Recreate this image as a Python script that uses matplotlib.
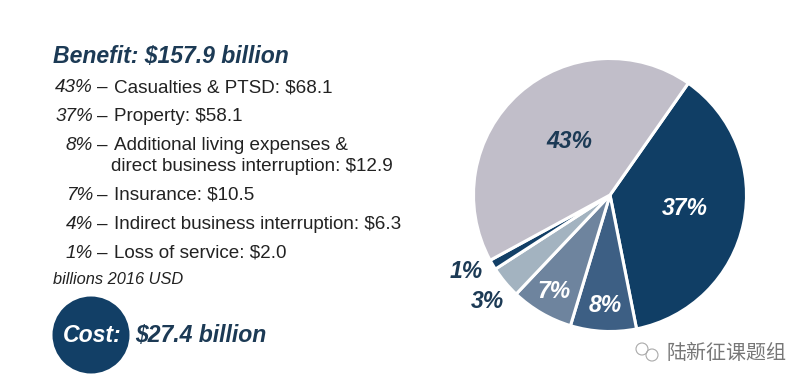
"""Benefit vs cost of the programme: text list on the left, pie on the right."""
import matplotlib
matplotlib.use("Agg")
import matplotlib.pyplot as plt
from matplotlib.patches import Circle

plt.rcParams['font.family'] = ['Liberation Sans', 'Noto Sans CJK SC', 'DejaVu Sans']

W, H = 811, 389
NAVY = "#123f66"
DARK = "#1c3a55"
INK = "#222222"

# slice sizes, clockwise from the top right edge of the grey slice
pie_values = [37.2, 7.8, 7.4, 3.8, 1.2, 42.7]
pie_colors = ["#103e65", "#3d5f84", "#6e849e", "#a3b3c0", "#123f66", "#c1bec9"]
pie_labels = ["37%", "8%", "7%", "3%", "1%", "43%"]
label_xy = [(685, 208), (605, 306), (554, 292), (487, 302), (466, 271), (569, 141)]
label_colors = ["white", "white", "white", DARK, DARK, DARK]

shares = ["43%", "37%", "8%", "7%", "4%", "1%"]
items = ["Casualties & PTSD: $68.1", "Property: $58.1",
         "Additional living expenses &", "Insurance: $10.5",
         "Indirect business interruption: $6.3", "Loss of service: $2.0"]
item_y = [87.5, 116, 145, 195, 224.5, 253]

fig = plt.figure(figsize=(W / 100, H / 100), dpi=100, facecolor='white')
ax = fig.add_axes([0, 0, 1, 1])


def put(x, y, s, **kw):
    # y is measured from the top of the picture
    ax.text(x, H - y, s, va='center', **kw)


ax.pie(pie_values, colors=pie_colors, startangle=55, counterclock=False,
       center=(610, H - 195), radius=136.5, frame=True,
       wedgeprops=dict(edgecolor='white', linewidth=2.2))
ax.set_xlim(0, W)
ax.set_ylim(0, H)
ax.set_aspect('equal')
ax.axis('off')

for lab, (x, y), c in zip(pie_labels, label_xy, label_colors):
    put(x, y, lab, ha='center', fontsize=16.6, fontweight='bold',
        fontstyle='italic', color=c)

put(53, 56, "Benefit: $157.9 billion", fontsize=16.6, fontweight='bold',
    fontstyle='italic', color=DARK)

for share, item, y in zip(shares, items, item_y):
    put(93, y, share, ha='right', fontsize=13.6, fontstyle='italic', color=INK)
    put(97, y, "–", fontsize=13.6, color=INK)
    put(114, y, item, fontsize=13.6, color=INK)
put(111, 166, "direct business interruption: $12.9", fontsize=13.6, color=INK)

put(53, 280, "billions 2016 USD", fontsize=11.8, fontstyle='italic', color=INK)

ax.add_patch(Circle((91, H - 335), 38.5, color=NAVY, linewidth=0))
put(92, 335, "Cost:", ha='center', fontsize=16.6, fontweight='bold',
    fontstyle='italic', color='white')
put(135, 335, "$27.4 billion", fontsize=16.6, fontweight='bold',
    fontstyle='italic', color=DARK)

# watermark
put(666, 353, "陆新征课题组", fontsize=14.4, color="#777777")
ax.add_patch(Circle((642, H - 349), 6, fill=False, edgecolor="#aaaaaa", linewidth=0.8))
ax.add_patch(Circle((652, H - 355), 6, fill=False, edgecolor="#aaaaaa", linewidth=0.8))

fig.savefig("out.png", dpi=100, facecolor='white')
plt.close(fig)
